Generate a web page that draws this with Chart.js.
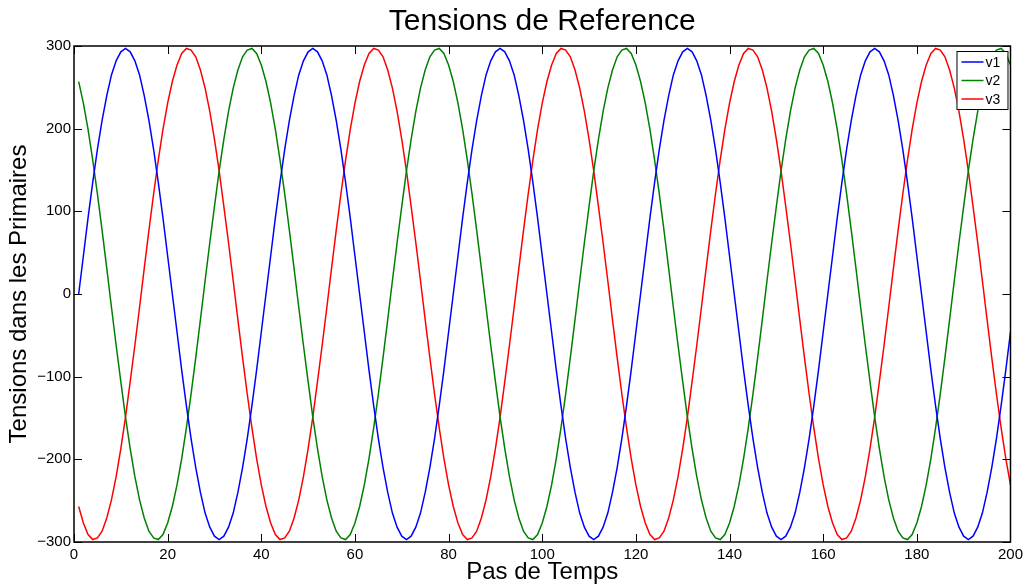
<!DOCTYPE html>
<html>
<head>
<meta charset="utf-8">
<script src="https://cdn.jsdelivr.net/npm/chart.js@4"></script>
<style>
  html, body { margin: 0; padding: 0; background: #fff; }
  #wrap { width: 1027px; height: 587px; }
</style>
</head>
<body>
<div id="wrap"><canvas id="tensionChart"></canvas></div>
<script>
// values, one per time step (1..200)
const v1 = [
  0, 46, 92, 135, 175, 210, 240, 265, 282, 293, 297, 293, 282, 265, 240, 210, 175, 135, 92, 46, 0, -46, -92, -135, -175, -210, -240, -265, -282, -293, -297, -293, -282, -265, -240, -210, -175, -135, -92, -46,
  0, 46, 92, 135, 175, 210, 240, 265, 282, 293, 297, 293, 282, 265, 240, 210, 175, 135, 92, 46, 0, -46, -92, -135, -175, -210, -240, -265, -282, -293, -297, -293, -282, -265, -240, -210, -175, -135, -92, -46,
  0, 46, 92, 135, 175, 210, 240, 265, 282, 293, 297, 293, 282, 265, 240, 210, 175, 135, 92, 46, 0, -46, -92, -135, -175, -210, -240, -265, -282, -293, -297, -293, -282, -265, -240, -210, -175, -135, -92, -46,
  0, 46, 92, 135, 175, 210, 240, 265, 282, 293, 297, 293, 282, 265, 240, 210, 175, 135, 92, 46, 0, -46, -92, -135, -175, -210, -240, -265, -282, -293, -297, -293, -282, -265, -240, -210, -175, -135, -92, -46,
  0, 46, 92, 135, 175, 210, 240, 265, 282, 293, 297, 293, 282, 265, 240, 210, 175, 135, 92, 46, 0, -46, -92, -135, -175, -210, -240, -265, -282, -293, -297, -293, -282, -265, -240, -210, -175, -135, -92, -46
];
const v2 = [
  257, 231, 199, 162, 121, 77, 31, -16, -62, -106, -149, -187, -221, -249, -271, -287, -295, -297, -291, -277, -257, -231, -199, -162, -121, -77, -31, 16, 62, 106, 149, 187, 221, 249, 271, 287, 295, 297, 291, 277,
  257, 231, 199, 162, 121, 77, 31, -16, -62, -106, -149, -187, -221, -249, -271, -287, -295, -297, -291, -277, -257, -231, -199, -162, -121, -77, -31, 16, 62, 106, 149, 187, 221, 249, 271, 287, 295, 297, 291, 277,
  257, 231, 199, 162, 121, 77, 31, -16, -62, -106, -149, -187, -221, -249, -271, -287, -295, -297, -291, -277, -257, -231, -199, -162, -121, -77, -31, 16, 62, 106, 149, 187, 221, 249, 271, 287, 295, 297, 291, 277,
  257, 231, 199, 162, 121, 77, 31, -16, -62, -106, -149, -187, -221, -249, -271, -287, -295, -297, -291, -277, -257, -231, -199, -162, -121, -77, -31, 16, 62, 106, 149, 187, 221, 249, 271, 287, 295, 297, 291, 277,
  257, 231, 199, 162, 121, 77, 31, -16, -62, -106, -149, -187, -221, -249, -271, -287, -295, -297, -291, -277, -257, -231, -199, -162, -121, -77, -31, 16, 62, 106, 149, 187, 221, 249, 271, 287, 295, 297, 291, 277
];
const v3 = [
  -257, -277, -291, -297, -295, -287, -271, -249, -221, -187, -149, -106, -62, -16, 31, 77, 121, 162, 199, 231, 257, 277, 291, 297, 295, 287, 271, 249, 221, 187, 149, 106, 62, 16, -31, -77, -121, -162, -199, -231,
  -257, -277, -291, -297, -295, -287, -271, -249, -221, -187, -149, -106, -62, -16, 31, 77, 121, 162, 199, 231, 257, 277, 291, 297, 295, 287, 271, 249, 221, 187, 149, 106, 62, 16, -31, -77, -121, -162, -199, -231,
  -257, -277, -291, -297, -295, -287, -271, -249, -221, -187, -149, -106, -62, -16, 31, 77, 121, 162, 199, 231, 257, 277, 291, 297, 295, 287, 271, 249, 221, 187, 149, 106, 62, 16, -31, -77, -121, -162, -199, -231,
  -257, -277, -291, -297, -295, -287, -271, -249, -221, -187, -149, -106, -62, -16, 31, 77, 121, 162, 199, 231, 257, 277, 291, 297, 295, 287, 271, 249, 221, 187, 149, 106, 62, 16, -31, -77, -121, -162, -199, -231,
  -257, -277, -291, -297, -295, -287, -271, -249, -221, -187, -149, -106, -62, -16, 31, 77, 121, 162, 199, 231, 257, 277, 291, 297, 295, 287, 271, 249, 221, 187, 149, 106, 62, 16, -31, -77, -121, -162, -199, -231
];
const seriesNames = ['v1', 'v2', 'v3'];
const seriesColors = ['#0000ff', '#008000', '#ff0000'];
const xTicks = [0, 20, 40, 60, 80, 100, 120, 140, 160, 180, 200];
const yTicks = [-300, -200, -100, 0, 100, 200, 300];

const FONT = '"Liberation Sans", Arial, Helvetica, sans-serif';

function toPoints(arr) {
    return arr.map((v, i) => ({ x: i + 1, y: v }));
}

// matlab style box: frame, inward ticks on all four sides, legend in the corner
const matlabBox = {
    id: 'matlabBox',
    afterDatasetsDraw(chart) {
        const ctx = chart.ctx;
        const a = chart.chartArea;
        const xs = chart.scales.x;
        const ys = chart.scales.y;
        const len = 8;
        ctx.save();
        ctx.strokeStyle = '#000';
        ctx.lineWidth = 1;
        ctx.beginPath();
        xTicks.forEach(t => {
            const px = Math.round(xs.getPixelForValue(t)) + 0.5;
            ctx.moveTo(px, a.bottom); ctx.lineTo(px, a.bottom - len);
            ctx.moveTo(px, a.top); ctx.lineTo(px, a.top + len);
        });
        yTicks.forEach(t => {
            const py = Math.round(ys.getPixelForValue(t)) + 0.5;
            ctx.moveTo(a.left, py); ctx.lineTo(a.left + len, py);
            ctx.moveTo(a.right, py); ctx.lineTo(a.right - len, py);
        });
        ctx.stroke();
        ctx.lineWidth = 1.5;
        ctx.strokeRect(a.left, a.top, a.right - a.left, a.bottom - a.top);

        // legend
        const bw = 51, bh = 58;
        const bx = a.right - 3 - bw, by = a.top + 5;
        ctx.fillStyle = '#fff';
        ctx.fillRect(bx, by, bw, bh);
        ctx.lineWidth = 1;
        ctx.strokeRect(bx + 0.5, by + 0.5, bw, bh);
        ctx.font = '14px ' + FONT;
        ctx.textBaseline = 'middle';
        chart.data.datasets.forEach((ds, i) => {
            const cy = by + 11 + i * 18.5;
            ctx.strokeStyle = ds.borderColor;
            ctx.lineWidth = 1.5;
            ctx.beginPath();
            ctx.moveTo(bx + 5, cy);
            ctx.lineTo(bx + 27, cy);
            ctx.stroke();
            ctx.fillStyle = '#000';
            ctx.fillText(ds.label, bx + 29, cy + 1);
        });
        ctx.restore();
    }
};

const allSeries = [v1, v2, v3];

new Chart(document.getElementById('tensionChart'), {
    type: 'line',
    data: {
        datasets: allSeries.map((s, i) => ({
            label: seriesNames[i],
            data: toPoints(s),
            borderColor: seriesColors[i],
            backgroundColor: seriesColors[i],
            borderWidth: 1.5,
            pointRadius: 0,
            tension: 0,
            fill: false
        }))
    },
    options: {
        responsive: true,
        maintainAspectRatio: false,
        animation: false,
        layout: { padding: { left: 0, right: 15, top: 0, bottom: 0 } },
        plugins: {
            legend: { display: false },
            tooltip: { enabled: false },
            title: {
                display: true,
                fullSize: false,
                text: 'Tensions de Reference',
                color: '#000',
                font: { family: FONT, size: 30, weight: 'normal' },
                padding: { top: 4, bottom: 6 }
            }
        },
        scales: {
            x: {
                type: 'linear',
                min: 0,
                max: 200,
                afterBuildTicks: (scale) => { scale.ticks = xTicks.map(v => ({ value: v })); },
                afterFit: (scale) => { scale.height = 45; },
                grid: { display: false, drawTicks: false },
                border: { display: false },
                ticks: {
                    color: '#000',
                    padding: 4,
                    maxRotation: 0,
                    font: { family: FONT, size: 15 }
                },
                title: {
                    display: true,
                    text: 'Pas de Temps',
                    color: '#000',
                    font: { family: FONT, size: 24 },
                    padding: { top: 0, bottom: 0 }
                }
            },
            y: {
                type: 'linear',
                min: -300,
                max: 300,
                afterBuildTicks: (scale) => { scale.ticks = yTicks.map(v => ({ value: v })); },
                afterFit: (scale) => { scale.width = 74; },
                grid: { display: false, drawTicks: false },
                border: { display: false },
                ticks: {
                    color: '#000',
                    padding: 3,
                    font: { family: FONT, size: 15 },
                    callback: (v) => String(v).replace('-', '\u2212')
                },
                title: {
                    display: true,
                    text: 'Tensions dans les Primaires',
                    color: '#000',
                    font: { family: FONT, size: 24 },
                    padding: { top: 5, bottom: 0 }
                }
            }
        }
    },
    plugins: [matlabBox]
});
</script>
</body>
</html>
